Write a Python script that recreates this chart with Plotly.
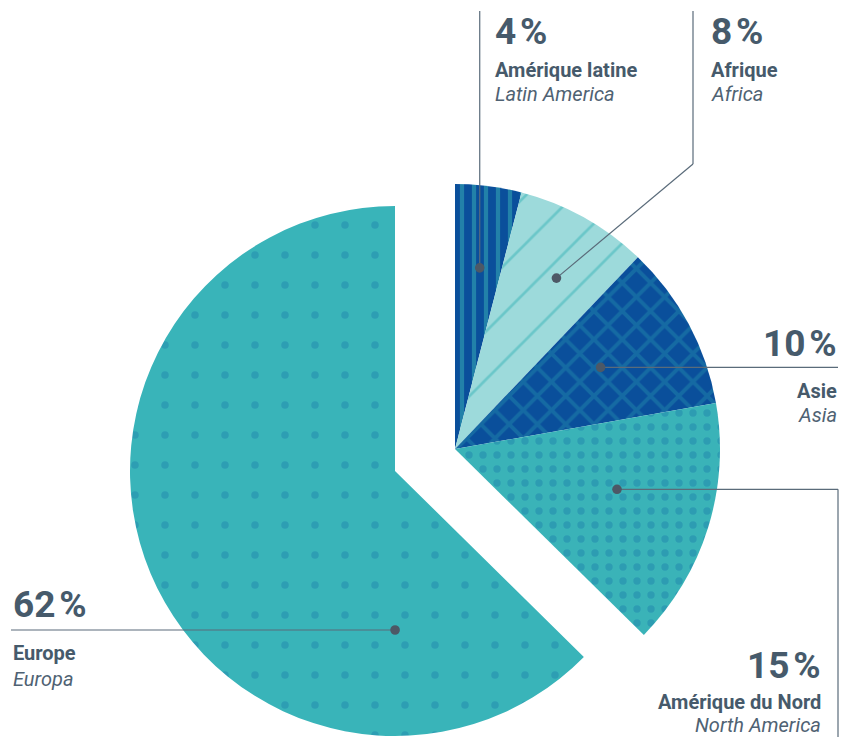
import math
import plotly.graph_objects as go

# ---------------- data ----------------
regions_fr = ["Amérique latine", "Afrique", "Asie", "Amérique du Nord", "Europe"]
regions_en = ["Latin America", "Africa", "Asia", "North America", "Europa"]
shares = [4, 8, 10, 15, 62]
pct_labels = ["4\u200a%", "8\u200a%", "10\u200a%", "15\u200a%", "62\u200a%"]
exploded_region = "Europe"

# ---------------- styles ----------------
slice_bg = ["#0a4f9b", "#9ddadb", "#0a4f9b", "#3ab3b8", "#39b4b9"]
pattern_fg = ["#3ab3b8", "#3ab3b8", "#1f86ab", "#1f85ab", "#2188ae"]
pattern_shape = ["|", "/", "x", ".", "."]
pattern_size = [12, 34, 20, 14, 30]
pattern_solid = [0.35, 0.08, 0.35, 0.22, 0.05]

TEXT = "#465a6b"
TEXT2 = "#4f6273"
LINE = "#5a6b7a"
DOT = "#4d5866"
FONT = "Roboto"

W, H = 843, 737
R = 265
CX, CY = 455, 449          # main pie centre (px)
EXPLODE = (-60, 22)        # offset of the exploded slice (px)

# label layout: x, anchor, y of (pct, fr, en), dot angle offset from slice mid, dot radius fraction, leader path
label_layout = [
    dict(x=494, xa="left", ys=(31, 70, 94), dang=0.5, rho=0.69, path=[(None, 11)]),
    dict(x=710, xa="left", ys=(31, 70, 94), dang=1.6, rho=0.75, path=[(693, 164), (693, 11)]),
    dict(x=838, xa="right", ys=(343, 391, 415), dang=-1.1, rho=0.63, path=[(838, None)]),
    dict(x=822, xa="right", ys=(665, 702, 725), dang=-3.3, rho=0.63, path=[(838, None), (838, 737)]),
    dict(x=12, xa="left", ys=(604, 653, 679), dang=-67.3, rho=0.6, path=[(11, None)]),
]


def px(x):
    return x / W


def py(y):
    return 1 - y / H


def domain(cx, cy):
    return dict(x=[px(cx - R), px(cx + R)], y=[py(cy + R), py(cy - R)])


total = sum(shares)
ex_idx = regions_fr.index(exploded_region)

fig = go.Figure()
for part in ("main", "exploded"):
    show = [(i == ex_idx) == (part == "exploded") for i in range(len(shares))]
    cx = CX + (EXPLODE[0] if part == "exploded" else 0)
    cy = CY + (EXPLODE[1] if part == "exploded" else 0)
    fig.add_trace(go.Pie(
        labels=regions_fr,
        values=shares,
        sort=False,
        direction="clockwise",
        rotation=0,
        textinfo="none",
        hoverinfo="label+percent",
        showlegend=False,
        domain=domain(cx, cy),
        marker=dict(
            colors=[c if s else "rgba(0,0,0,0)" for c, s in zip(slice_bg, show)],
            line=dict(width=0),
            pattern=dict(
                shape=[p if s else "" for p, s in zip(pattern_shape, show)],
                fgcolor=[c if s else "rgba(0,0,0,0)" for c, s in zip(pattern_fg, show)],
                bgcolor=[c if s else "rgba(0,0,0,0)" for c, s in zip(slice_bg, show)],
                size=pattern_size,
                solidity=pattern_solid,
                fillmode="overlay",
            ),
        ),
    ))

shapes = []
annotations = []
cum = 0
for i, v in enumerate(shares):
    mid = (cum + v / 2) / total * 360
    cum += v
    spec = label_layout[i]
    cx = CX + (EXPLODE[0] if i == ex_idx else 0)
    cy = CY + (EXPLODE[1] if i == ex_idx else 0)
    a = math.radians(mid + spec["dang"])
    dx = cx + spec["rho"] * R * math.sin(a)
    dy = cy - spec["rho"] * R * math.cos(a)

    # leader line
    prev = (dx, dy)
    for (lx, ly) in spec["path"]:
        nx = prev[0] if lx is None else lx
        ny = prev[1] if ly is None else ly
        shapes.append(dict(type="line", xref="paper", yref="paper",
                           x0=px(prev[0]), y0=py(prev[1]), x1=px(nx), y1=py(ny),
                           line=dict(color=LINE, width=1.2)))
        prev = (nx, ny)
    # dot
    rd = 4.8
    shapes.append(dict(type="circle", xref="paper", yref="paper",
                       x0=px(dx - rd), x1=px(dx + rd), y0=py(dy + rd), y1=py(dy - rd),
                       fillcolor=DOT, line=dict(width=0)))

    texts = [
        (pct_labels[i], dict(family=FONT, size=37, color=TEXT, weight="bold")),
        (regions_fr[i], dict(family=FONT, size=20, color=TEXT, weight="bold")),
        (regions_en[i], dict(family=FONT, size=20, color=TEXT2, style="italic")),
    ]
    for (t, f), yy in zip(texts, spec["ys"]):
        annotations.append(dict(text=t, xref="paper", yref="paper",
                                x=px(spec["x"]), y=py(yy), xanchor=spec["xa"], yanchor="middle",
                                showarrow=False, font=f, borderpad=0))

fig.update_layout(
    width=W, height=H,
    margin=dict(l=0, r=0, t=0, b=0),
    paper_bgcolor="white",
    plot_bgcolor="white",
    shapes=shapes,
    annotations=annotations,
)

fig.write_html("out.html", config={"displayModeBar": False},
               post_script="document.body.style.margin='0';document.body.style.overflow='hidden';")
